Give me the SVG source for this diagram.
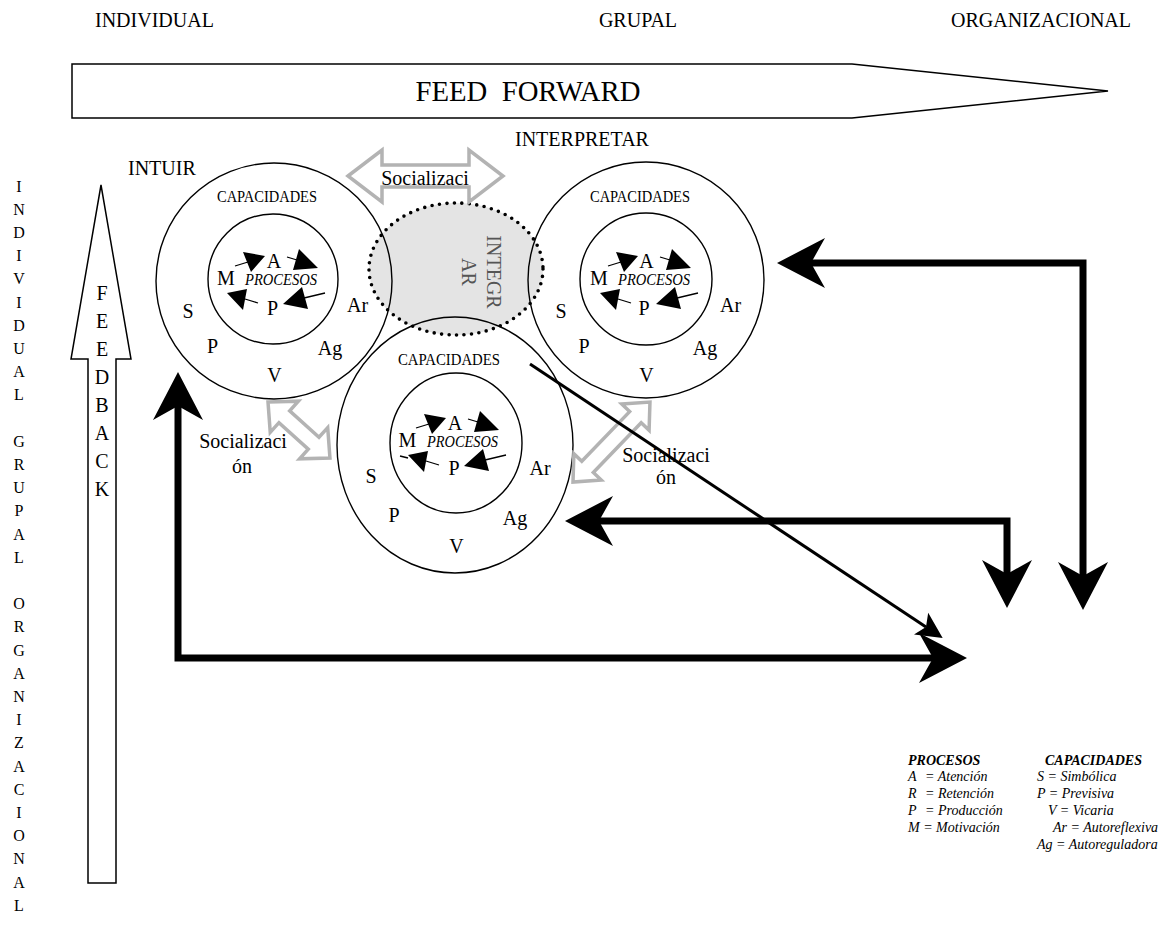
<svg xmlns="http://www.w3.org/2000/svg" width="1166" height="929" viewBox="0 0 1166 929">
<defs>
<style>
.t{font-family:"Liberation Serif","Times New Roman",serif;fill:#000}
.f20{font-size:20px}
.f16{font-size:16px}
.cap{font-size:16px}
.pr{font-size:16px;font-style:italic}
.lg{font-size:14px;font-style:italic}
.lh{font-size:14px;font-style:italic;font-weight:bold}
.ln{fill:none;stroke:#000;stroke-width:1.4}
.soc{fill:#fff;stroke:#b3b3b3;stroke-width:3.5}
.thick{fill:none;stroke:#000;stroke-width:7;marker-start:url(#big);marker-end:url(#big)}
</style>
<marker id="big" markerUnits="userSpaceOnUse" viewBox="0 -26 50 52" markerWidth="50" markerHeight="52" refX="14" refY="0" orient="auto-start-reverse"><path d="M0,-25 L48,0 L0,25 L14,0 Z" fill="#000"/></marker>
<marker id="small" markerUnits="userSpaceOnUse" viewBox="0 -14 28 28" markerWidth="28" markerHeight="28" refX="6" refY="0" orient="auto"><path d="M0,-13 L26,0 L0,13 L6,0 Z" fill="#000"/></marker>
<g id="pa">
<path d="M-38,-13 L-25,-17 M14,-22 L24,-19 M52,14 L31,19 M-15,24 L-28,20" stroke="#000" stroke-width="1.3" fill="none"/>
<path d="M-8,-23 L-30,-27 L-22,-7 Z M45,-11 L26,-30 L20,-9 Z M10,25 L29,8 L35,30 Z M-46,14 L-26,10 L-30,31 Z" fill="#000"/>
</g>
</defs>
<rect width="1166" height="929" fill="#fff"/>

<g id="levels" class="t f20">
<text x="95" y="27">INDIVIDUAL</text>
<text x="638" y="27" text-anchor="middle">GRUPAL</text>
<text x="951" y="27">ORGANIZACIONAL</text>
<text x="515" y="146">INTERPRETAR</text>
<text x="128" y="175">INTUIR</text>
</g>

<g id="feedforward">
<polygon points="72,64 852,64 1108,91 852,118 72,118" fill="#fff" stroke="#000" stroke-width="1.5"/>
<text class="t" x="528" y="101" text-anchor="middle" font-size="29" textLength="225" lengthAdjust="spacingAndGlyphs" xml:space="preserve">FEED  FORWARD</text>
</g>

<g id="levels-vertical" class="t f16" text-anchor="middle">
<text><tspan x="19" y="191.5">I</tspan><tspan x="19" y="214.7">N</tspan><tspan x="19" y="237.9">D</tspan><tspan x="19" y="261.1">I</tspan><tspan x="19" y="284.3">V</tspan><tspan x="19" y="307.5">I</tspan><tspan x="19" y="330.7">D</tspan><tspan x="19" y="353.9">U</tspan><tspan x="19" y="377.1">A</tspan><tspan x="19" y="400.3">L</tspan></text>
<text><tspan x="19" y="446.7">G</tspan><tspan x="19" y="469.9">R</tspan><tspan x="19" y="493.1">U</tspan><tspan x="19" y="516.3">P</tspan><tspan x="19" y="539.5">A</tspan><tspan x="19" y="562.7">L</tspan></text>
<text><tspan x="19" y="609.1">O</tspan><tspan x="19" y="632.3">R</tspan><tspan x="19" y="655.5">G</tspan><tspan x="19" y="678.7">A</tspan><tspan x="19" y="701.9">N</tspan><tspan x="19" y="725.1">I</tspan><tspan x="19" y="748.3">Z</tspan><tspan x="19" y="771.5">A</tspan><tspan x="19" y="794.7">C</tspan><tspan x="19" y="817.9">I</tspan><tspan x="19" y="841.1">O</tspan><tspan x="19" y="864.3">N</tspan><tspan x="19" y="887.5">A</tspan><tspan x="19" y="910.7">L</tspan></text>
</g>

<g id="feedback">
<polygon points="101,185 131,359 116,359 116,883 88,883 88,359 71,359" fill="#fff" stroke="#000" stroke-width="1.5"/>
<text class="t f20" text-anchor="middle"><tspan x="102" y="300">F</tspan><tspan x="102" y="328">E</tspan><tspan x="102" y="356">E</tspan><tspan x="102" y="384">D</tspan><tspan x="102" y="412">B</tspan><tspan x="102" y="440">A</tspan><tspan x="102" y="468">C</tspan><tspan x="102" y="496">K</tspan></text>
</g>

<g id="integrar">
<ellipse cx="456" cy="269" rx="87" ry="66" fill="#e4e4e4"/>
<text class="t f20" style="fill:#555" transform="translate(487,272) rotate(90)" text-anchor="middle">INTEGR</text>
<text class="t f20" style="fill:#555" transform="translate(462,272) rotate(90)" text-anchor="middle">AR</text>
</g>

<g id="intuir-circle">
<circle class="ln" cx="274" cy="281" r="118"/>
<circle class="ln" cx="273" cy="279" r="65"/>
<use href="#pa" transform="translate(273,279)"/>
<text class="t cap" x="267" y="202" text-anchor="middle" textLength="100" lengthAdjust="spacingAndGlyphs">CAPACIDADES</text>
<text class="t pr" x="281" y="285" text-anchor="middle" textLength="72" lengthAdjust="spacingAndGlyphs">PROCESOS</text>
<g class="t f20" text-anchor="middle">
<text x="274" y="268">A</text><text x="226" y="285">M</text><text x="272.5" y="315">P</text>
<text x="188" y="318">S</text><text x="212.5" y="353">P</text><text x="274.5" y="382">V</text><text x="330" y="355">Ag</text><text x="357.5" y="312">Ar</text>
</g>
</g>

<g id="grupal-circle">
<ellipse class="ln" cx="455" cy="445" rx="118" ry="128"/>
<ellipse class="ln" cx="456" cy="443" rx="66" ry="70"/>
<use href="#pa" transform="translate(454,441)"/>
<path d="M400,456 L408,458" stroke="#000" stroke-width="1.3"/>
<text class="t cap" x="449" y="365" text-anchor="middle" textLength="102" lengthAdjust="spacingAndGlyphs">CAPACIDADES</text>
<text class="t pr" x="462.5" y="447" text-anchor="middle" textLength="71" lengthAdjust="spacingAndGlyphs">PROCESOS</text>
<g class="t f20" text-anchor="middle">
<text x="455" y="430">A</text><text x="407.5" y="447">M</text><text x="454" y="475">P</text>
<text x="371" y="483">S</text><text x="394" y="522">P</text><text x="456.5" y="553">V</text><text x="515" y="525">Ag</text><text x="540" y="475">Ar</text>
</g>
</g>

<g id="interpretar-circle">
<circle class="ln" cx="646" cy="280" r="118"/>
<circle class="ln" cx="646" cy="279" r="66"/>
<use href="#pa" transform="translate(646,279)"/>
<text class="t cap" x="640" y="202" text-anchor="middle" textLength="100" lengthAdjust="spacingAndGlyphs">CAPACIDADES</text>
<text class="t pr" x="654" y="285" text-anchor="middle" textLength="72" lengthAdjust="spacingAndGlyphs">PROCESOS</text>
<g class="t f20" text-anchor="middle">
<text x="646.5" y="268">A</text><text x="599" y="285">M</text><text x="644" y="315">P</text>
<text x="561" y="318">S</text><text x="584" y="353">P</text><text x="646.5" y="382">V</text><text x="705" y="355">Ag</text><text x="730.5" y="312">Ar</text>
</g>
</g>

<g id="integrar-outline">
<ellipse cx="456" cy="269" rx="87" ry="66" fill="none" stroke="#000" stroke-width="3.6" stroke-dasharray="0 7.5" stroke-linecap="round"/>
</g>

<g id="socializacion">
<path class="soc" transform="translate(348,176)" d="M0,0 L34,-26 L34,-11 L121,-11 L121,-26 L155,0 L121,26 L121,11 L34,11 L34,26 Z"/>
<text class="t f20" x="425" y="185" text-anchor="middle">Socializaci</text>
<path class="soc" transform="translate(268,402) rotate(42.1)" d="M0,0 L22,-21 L22,-8 L61.5,-8 L61.5,-21 L83.5,0 L61.5,21 L61.5,8 L22,8 L22,21 Z"/>
<text class="t f20" x="243" y="448" text-anchor="middle">Socializaci</text>
<text class="t f20" x="242" y="473" text-anchor="middle">ón</text>
<path class="soc" transform="translate(573,482) rotate(-46.1)" d="M0,0 L21,-19 L21,-8 L90,-8 L90,-19 L111,0 L90,19 L90,8 L21,8 L21,19 Z"/>
<text class="t f20" x="666" y="462" text-anchor="middle">Socializaci</text>
<text class="t f20" x="666" y="484" text-anchor="middle">ón</text>
</g>

<g id="connectors">
<path d="M530,364 L926,627" stroke="#000" stroke-width="3" fill="none" marker-end="url(#small)"/>
<path class="thick" d="M811,263 H1083 V576"/>
<path class="thick" d="M599,521 H1007 V574"/>
<path class="thick" d="M178,406 V658 H933"/>
</g>

<g id="legend">
<text class="t lh" x="908" y="765">PROCESOS</text>
<text class="t lh" x="1045" y="765">CAPACIDADES</text>
<g class="t lg">
<text x="908" y="781">A<tspan x="925">= Atención</tspan></text>
<text x="908" y="798">R<tspan x="925">= Retención</tspan></text>
<text x="908" y="815">P<tspan x="925">= Producción</tspan></text>
<text x="908" y="832">M = Motivación</text>
<text x="1037" y="781">S = Simbólica</text>
<text x="1037" y="798">P = Previsiva</text>
<text x="1048" y="815">V = Vicaria</text>
<text x="1053" y="832">Ar = Autoreflexiva</text>
<text x="1037" y="849">Ag = Autoreguladora</text>
</g>
</g>
</svg>
